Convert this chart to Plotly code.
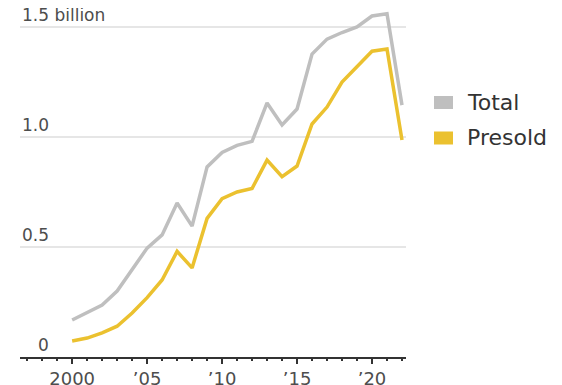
import plotly.graph_objects as go

years = list(range(2000, 2023))
total = [0.168, 0.20, 0.236, 0.30, 0.395, 0.495, 0.555, 0.70, 0.595, 0.864, 0.93, 0.962, 0.98,
         1.155, 1.055, 1.127, 1.377, 1.445, 1.475, 1.50, 1.55, 1.56, 1.145]
presold = [0.073, 0.086, 0.11, 0.14, 0.20, 0.27, 0.35, 0.48, 0.405, 0.63, 0.72, 0.75, 0.766,
           0.895, 0.82, 0.868, 1.059, 1.136, 1.25, 1.32, 1.39, 1.40, 0.986]
series_names = ["Total", "Presold"]
series_colors = ["#bfbfbf", "#ebc12f"]
x_tickvals = [2000, 2005, 2010, 2015, 2020]
x_ticktext = ["2000", "\u201905", "\u201910", "\u201915", "\u201920"]
y_tickvals = [0, 0.5, 1.0, 1.5]
y_ticktext = ["0", "0.5", "1.0", "1.5 billion"]

OFF = 8  # page body margin
W, H = 562 - OFF, 385 - OFF
# page-coordinate targets
PL, PR, PT, PB = 20, 406, 10, 357
L, T = PL - OFF, PT - OFF
R = W - (PR - OFF)
B = H - (PB - OFF)
pw = W - L - R
ph = H - T - B
y_top = ph / 220.0

def px_x(p):
    return (p - PL) / pw

def px_y(p):
    return (PB - p) / ph

fig = go.Figure()
for name, vals, col in zip(series_names, [total, presold], series_colors):
    fig.add_trace(go.Scatter(x=years, y=vals, mode="lines", name=name,
                             line=dict(color=col, width=3.5), showlegend=False,
                             hoverinfo="skip"))

tick_font = dict(family="DejaVu Sans", size=17, color="#4d4d4d")
xtick_font = dict(family="DejaVu Sans", size=18, color="#4d4d4d")

annotations = []
for v, t in zip(y_tickvals, y_ticktext):
    if t.startswith("1.5"):
        annotations.append(dict(x=px_x(20), xref="paper", xanchor="left", y=v, yref="y",
                                yanchor="bottom", text=t, showarrow=False, font=tick_font))
    else:
        annotations.append(dict(x=px_x(51), xref="paper", xanchor="right", y=v, yref="y",
                                yanchor="bottom", text=t, showarrow=False, font=tick_font))

shapes = []
leg_y = [102.5, 138]
for name, col, cy in zip(series_names, series_colors, leg_y):
    shapes.append(dict(type="rect", xref="paper", yref="paper",
                       x0=px_x(434), x1=px_x(453), y0=px_y(cy + 6.5), y1=px_y(cy - 6.5),
                       fillcolor=col, line=dict(width=0)))
    annotations.append(dict(x=px_x(465), xref="paper", xanchor="left", y=px_y(cy - 0.5), yref="paper",
                            yanchor="middle", text=name, showarrow=False,
                            font=dict(family="DejaVu Sans", size=22, color="#333333")))

x0 = 2000 - (72 - PL) / 14.95
x1 = 2022 + (PR - 402) / 14.95

fig.update_layout(
    width=W, height=H, margin=dict(l=L, r=R, t=T, b=B, autoexpand=False),
    plot_bgcolor="white", paper_bgcolor="white",
    showlegend=False,
    xaxis=dict(range=[x0, x1], tickvals=x_tickvals, ticktext=x_ticktext, automargin=False,
               ticks="outside", ticklen=5, tickwidth=1.5, tickcolor="#333333",
               showgrid=False, zeroline=False, showline=True, linecolor="#333333", linewidth=1.5,
               tickfont=xtick_font, ticklabelstandoff=0,
               minor=dict(dtick=1, tick0=2000, ticks="outside", ticklen=2.5, tickwidth=1.5,
                          tickcolor="#333333", showgrid=False)),
    yaxis=dict(range=[0, y_top], tickvals=[0.5, 1.0, 1.5], showticklabels=False, automargin=False,
               showgrid=True, gridcolor="#e6e6e6", gridwidth=1.5, zeroline=False,
               showline=False),
    annotations=annotations,
    shapes=shapes,
)

fig.write_html("out.html")
